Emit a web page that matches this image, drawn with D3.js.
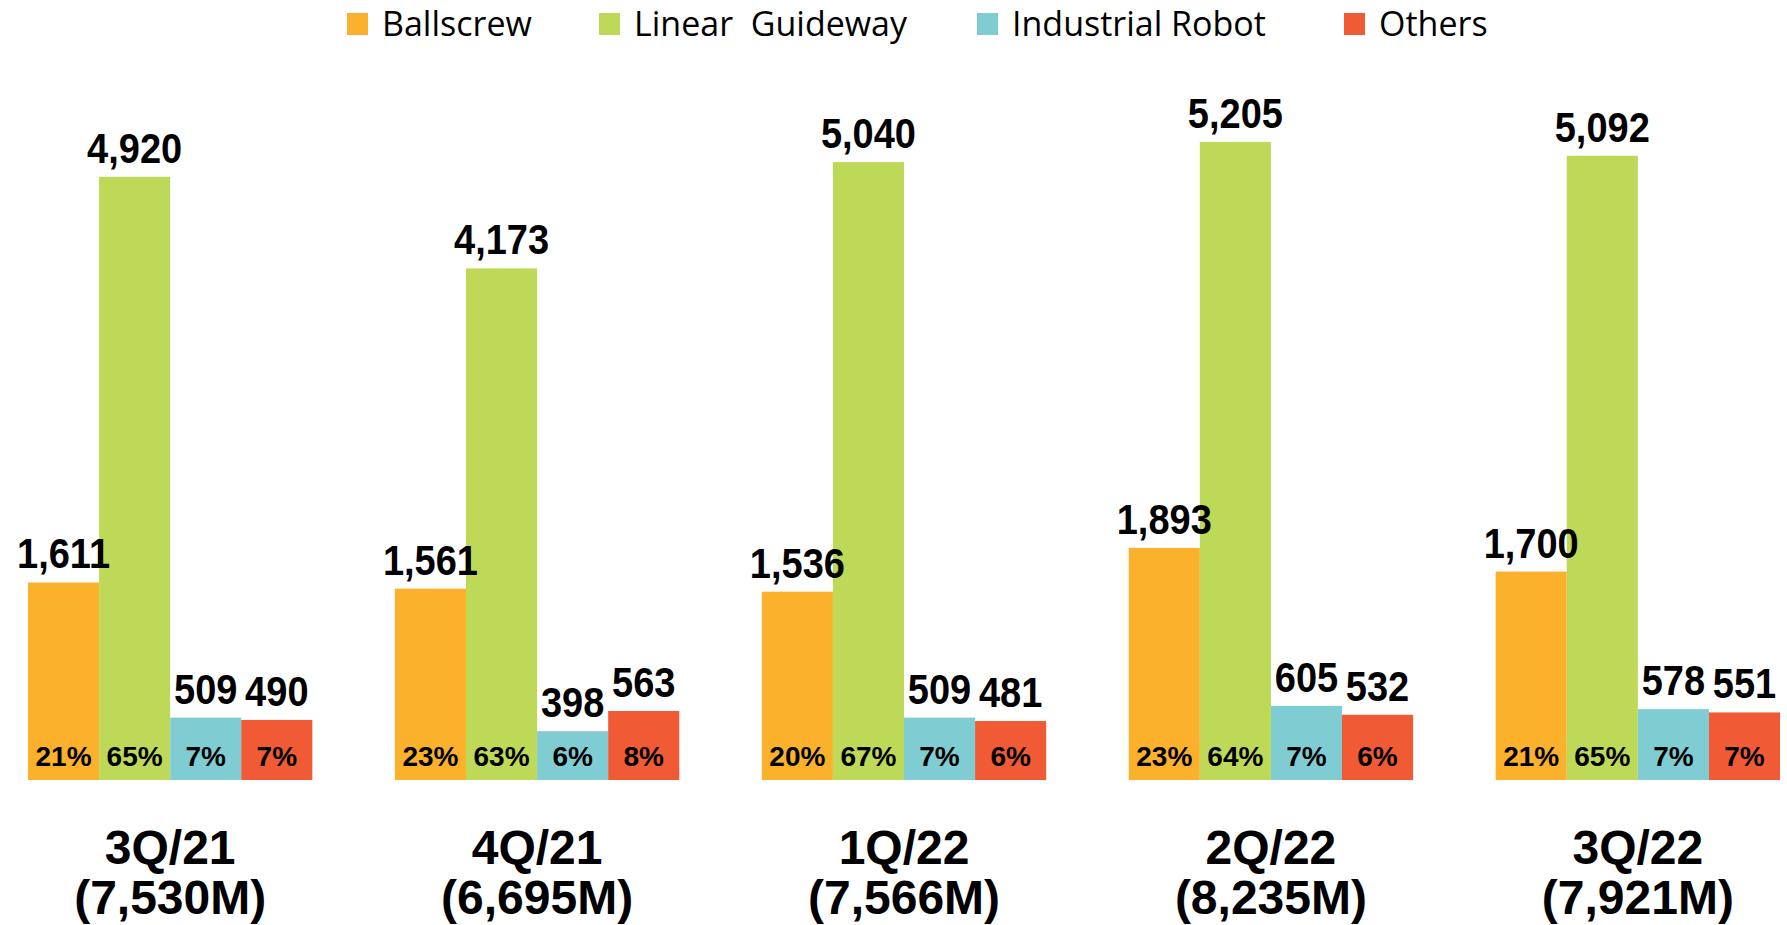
<!DOCTYPE html>
<html>
<head>
<meta charset="utf-8">
<script src="https://cdn.jsdelivr.net/npm/d3@7"></script>
<style>
  body { margin: 0; background: #fff; }
  svg { display: block; }
</style>
</head>
<body>
<div id="chart"></div>
<script>
// quarterly sales by product line (NT$ M)
const quarters = ["3Q/21", "4Q/21", "1Q/22", "2Q/22", "3Q/22"]
const totals = ["(7,530M)", "(6,695M)", "(7,566M)", "(8,235M)", "(7,921M)"]
const series = ["Ballscrew", "Linear  Guideway", "Industrial Robot", "Others"]
const colors = ["#FBB12B", "#BED957", "#7FCDD2", "#F05A35"]

const ballscrew = [1611, 1561, 1536, 1893, 1700]
const guideway = [4920, 4173, 5040, 5205, 5092]
const robot = [509, 398, 509, 605, 578]
const others = [490, 563, 481, 532, 551]

const shareBallscrew = ["21%", "23%", "20%", "23%", "21%"]
const shareGuideway = ["65%", "63%", "67%", "64%", "65%"]
const shareRobot = ["7%", "6%", "7%", "7%", "7%"]
const shareOthers = ["7%", "8%", "6%", "6%", "7%"]

const values = [ballscrew, guideway, robot, others]
const shares = [shareBallscrew, shareGuideway, shareRobot, shareOthers]

const width = 1787
const height = 925
const baseline = 780
// legend swatch x positions
const legendX = [347, 599, 977, 1344]

const svg = d3.select("#chart")
  .append("svg")
  .attr("width", width)
  .attr("height", height)

const x0 = d3.scaleBand()
  .domain(quarters)
  .range([28, 1780])
  .paddingInner(0.225)
  .paddingOuter(0)

const x1 = d3.scaleBand()
  .domain(d3.range(series.length))
  .range([0, x0.bandwidth()])
  .padding(0)

const y = d3.scaleLinear()
  .domain([0, 6000])
  .range([baseline, baseline - 6000 * 0.1226])

const rows = quarters.flatMap((q, qi) => series.map((s, si) => ({
  q, si, value: values[si][qi], share: shares[si][qi]
})))

const groups = svg.append("g").attr("class", "bars")

groups.selectAll("rect")
  .data(rows)
  .enter()
  .append("rect")
  .attr("x", d => x0(d.q) + x1(d.si))
  .attr("y", d => y(d.value))
  .attr("width", x1.bandwidth())
  .attr("height", d => y(0) - y(d.value))
  .attr("fill", d => colors[d.si])

// value above each bar
groups.selectAll(".value")
  .data(rows)
  .enter()
  .append("text")
  .attr("class", "value")
  .attr("transform", d => `translate(${x0(d.q) + x1(d.si) + x1.bandwidth() / 2}, ${y(d.value) - 14}) scale(1, 1.1)`)
  .attr("text-anchor", "middle")
  .style("font-family", "'Liberation Sans', Arial, sans-serif")
  .style("font-weight", "bold")
  .style("font-size", "38px")
  .attr("fill", "#000")
  .text(d => d3.format(",")(d.value))

// share inside bar bottom
groups.selectAll(".share")
  .data(rows)
  .enter()
  .append("text")
  .attr("class", "share")
  .attr("x", d => x0(d.q) + x1(d.si) + x1.bandwidth() / 2)
  .attr("y", baseline - 14)
  .attr("text-anchor", "middle")
  .style("font-family", "'Liberation Sans', Arial, sans-serif")
  .style("font-weight", "bold")
  .style("font-size", "28px")
  .attr("fill", "#000")
  .text(d => d.share)

// category labels
const cats = svg.append("g").attr("class", "categories")
  .selectAll("text")
  .data(quarters)
  .enter()
  .append("text")
  .attr("text-anchor", "middle")
  .attr("transform", d => `translate(${x0(d) + x0.bandwidth() / 2}, 864)`)
  .style("font-family", "'Liberation Sans', Arial, sans-serif")
  .style("font-weight", "bold")
  .style("font-size", "48px")
  .attr("fill", "#000")

cats.append("tspan").attr("x", 0).attr("y", 0).text(d => d)
cats.append("tspan").attr("x", 0).attr("y", 50).text((d, i) => totals[i])

// legend
const legend = svg.append("g").attr("class", "legend")
  .selectAll("g")
  .data(series)
  .enter()
  .append("g")
  .attr("transform", (d, i) => `translate(${legendX[i]}, 0)`)

legend.append("rect")
  .attr("x", 0)
  .attr("y", 13)
  .attr("width", 21)
  .attr("height", 22)
  .attr("fill", (d, i) => colors[i])

legend.append("text")
  .attr("x", 35)
  .attr("y", 36)
  .style("font-family", "'Open Sans', 'Noto Sans', sans-serif")
  .style("font-size", "34px")
  .style("white-space", "pre")
  .attr("fill", "#000")
  .text(d => d)
</script>
</body>
</html>
